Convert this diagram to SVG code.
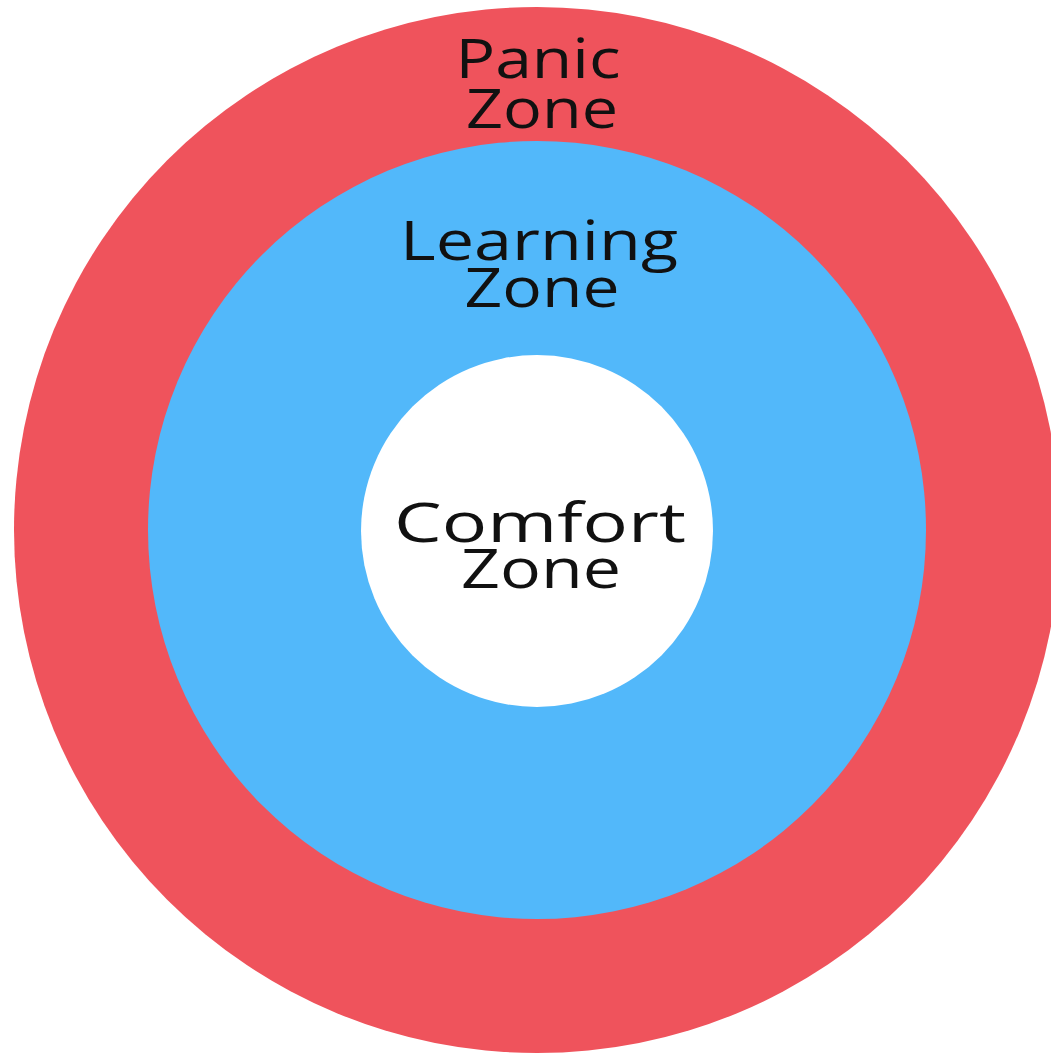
<svg xmlns="http://www.w3.org/2000/svg" width="1051" height="1055" viewBox="0 0 1051 1055">
  <style>
    .label { font-family: "Open Sans", "Liberation Sans", sans-serif; font-size: 54px; fill: #111111; text-anchor: middle; }
  </style>
  <rect width="1051" height="1055" fill="#ffffff"/>
  <g id="panic-zone">
    <circle cx="537" cy="530" r="523" fill="#EF535C"/>
    <text class="label" x="538" y="78" textLength="165" lengthAdjust="spacingAndGlyphs">Panic</text>
    <text class="label" x="542" y="128" textLength="152" lengthAdjust="spacingAndGlyphs">Zone</text>
  </g>
  <g id="learning-zone">
    <circle cx="537" cy="530" r="389" fill="#52B8FA"/>
    <text class="label" x="539" y="260" textLength="278" lengthAdjust="spacingAndGlyphs">Learning</text>
    <text class="label" x="542" y="307" textLength="155" lengthAdjust="spacingAndGlyphs">Zone</text>
  </g>
  <g id="comfort-zone">
    <circle cx="537" cy="531" r="176" fill="#ffffff"/>
    <text class="label" x="540" y="542" textLength="292" lengthAdjust="spacingAndGlyphs">Comfort</text>
    <text class="label" x="541" y="588" textLength="160" lengthAdjust="spacingAndGlyphs">Zone</text>
  </g>
</svg>
